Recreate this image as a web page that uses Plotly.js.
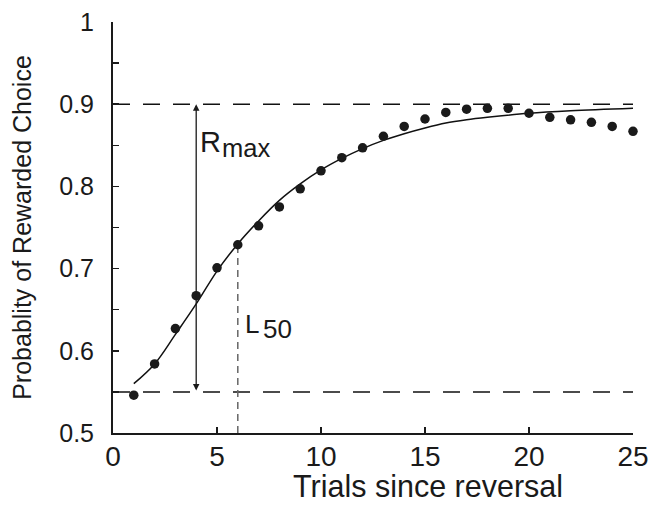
<!DOCTYPE html>
<html>
<head>
<meta charset="utf-8">
<script src="https://cdn.plot.ly/plotly-3.0.1.min.js"></script>
<style>
  html, body { margin: 0; padding: 0; background: #fff; }
  #chart { width: 657px; height: 506px; }
</style>
</head>
<body>
<div id="chart"></div>
<script>
// Observed data (mean probability of rewarded choice per trial since reversal)
var trials = [1,2,3,4,5,6,7,8,9,10,11,12,13,14,15,16,17,18,19,20,21,22,23,24,25];
var probRewarded = [0.546,0.584,0.627,0.667,0.701,0.729,0.752,0.775,0.797,0.819,0.835,0.847,0.861,0.873,0.882,0.890,0.894,0.895,0.895,0.889,0.884,0.881,0.878,0.873,0.867];

// Fitted curve
var fitX = [1,2,3,4,5,6,7,8,9,10,11,12,13,14,15,16,17,18,20,22,25];
var fitY = [0.560,0.584,0.620,0.657,0.697,0.730,0.758,0.783,0.803,0.820,0.834,0.846,0.856,0.864,0.871,0.877,0.881,0.884,0.889,0.892,0.895];

// Reference levels and markers
var baseLevel = 0.55;
var maxLevel = 0.90;
var rmaxX = 4;
var l50X = 6;
var l50Y = 0.730;
var xRange = [0, 25];
var yRange = [0.5, 1];

var xTickVals = [0,5,10,15,20,25];
var xTickText = ['0','5','10','15','20','25'];
var yTickVals = [0.5,0.6,0.7,0.8,0.9,1];
var yTickText = ['0.5','0.6','0.7','0.8','0.9','1'];

var xTitle = 'Trials since reversal';
var yTitle = 'Probablity of Rewarded Choice';

var FONT = 'Liberation Sans, Arial, Helvetica, sans-serif';

var traces = [
  {
    x: [xRange[0], xRange[1]], y: [maxLevel, maxLevel],
    mode: 'lines', line: {color: '#111', width: 1.5, dash: '17px,13px'},
    hoverinfo: 'skip', showlegend: false
  },
  {
    x: [xRange[0], xRange[1]], y: [baseLevel, baseLevel],
    mode: 'lines', line: {color: '#111', width: 1.5, dash: '17px,13px'},
    hoverinfo: 'skip', showlegend: false
  },
  {
    x: [l50X, l50X], y: [yRange[0], l50Y],
    mode: 'lines', line: {color: '#666', width: 1.5, dash: '7px,5px'},
    hoverinfo: 'skip', showlegend: false
  },
  {
    x: fitX, y: fitY,
    mode: 'lines', line: {color: '#111', width: 1.5, shape: 'spline', smoothing: 1},
    showlegend: false
  },
  {
    x: trials, y: probRewarded,
    mode: 'markers', marker: {color: '#1a1a1a', size: 9.5},
    showlegend: false, cliponaxis: false
  }
];

var layout = {
  width: 657, height: 506,
  margin: {l: 113, r: 24, t: 22, b: 73, pad: 0},
  paper_bgcolor: '#fff', plot_bgcolor: '#fff',
  font: {family: FONT, color: '#1a1a1a'},
  showlegend: false,
  xaxis: {
    range: xRange, tickmode: 'array', tickvals: xTickVals, ticktext: xTickText,
    showline: true, linecolor: '#1a1a1a', linewidth: 2,
    ticks: 'inside', ticklen: 6, tickwidth: 1.5, tickcolor: '#1a1a1a',
    showgrid: false, zeroline: false, mirror: false,
    tickfont: {size: 28, family: FONT, color: '#1a1a1a'},
    ticklabelstandoff: -3
  },
  yaxis: {
    range: yRange, tickmode: 'array', tickvals: yTickVals, ticktext: yTickText,
    showline: true, linecolor: '#1a1a1a', linewidth: 2,
    ticks: 'inside', ticklen: 6, tickwidth: 1.5, tickcolor: '#1a1a1a',
    minor: {dtick: 0.05, tick0: 0.5, ticks: 'inside', ticklen: 6, tickwidth: 1.5, tickcolor: '#1a1a1a', showgrid: false},
    showgrid: false, zeroline: false, mirror: false,
    tickfont: {size: 25, family: FONT, color: '#1a1a1a'},
    ticklabelstandoff: 12,
    title: {text: yTitle, font: {size: 25, family: FONT, color: '#1a1a1a'}, standoff: 20}
  },
  annotations: [
    {
      x: rmaxX, y: maxLevel, ax: rmaxX, ay: baseLevel,
      xref: 'x', yref: 'y', axref: 'x', ayref: 'y',
      text: '', showarrow: true, arrowhead: 2, arrowsize: 1, arrowwidth: 1.3,
      arrowside: 'end+start', arrowcolor: '#1a1a1a', standoff: 0, startstandoff: 0
    },
    {x: 4.1, y: 0.854, xref: 'x', yref: 'y', text: 'R', showarrow: false,
     xanchor: 'left', yanchor: 'middle', font: {size: 29, family: FONT, color: '#1a1a1a'}},
    {x: 5.15, y: 0.847, xref: 'x', yref: 'y', text: 'max', showarrow: false,
     xanchor: 'left', yanchor: 'middle', font: {size: 25.5, family: FONT, color: '#1a1a1a'}},
    {x: 6.25, y: 0.633, xref: 'x', yref: 'y', text: 'L', showarrow: false,
     xanchor: 'left', yanchor: 'middle', font: {size: 26, family: FONT, color: '#1a1a1a'}},
    {x: 7.1, y: 0.627, xref: 'x', yref: 'y', text: '50', showarrow: false,
     xanchor: 'left', yanchor: 'middle', font: {size: 26, family: FONT, color: '#1a1a1a'}},
    {x: 0.606, y: -0.13, xref: 'paper', yref: 'paper', text: xTitle, showarrow: false,
     xanchor: 'center', yanchor: 'middle', font: {size: 30.5, family: FONT, color: '#1a1a1a'}}
  ]
};

Plotly.newPlot('chart', traces, layout, {displayModeBar: false, staticPlot: true});
</script>
</body>
</html>
